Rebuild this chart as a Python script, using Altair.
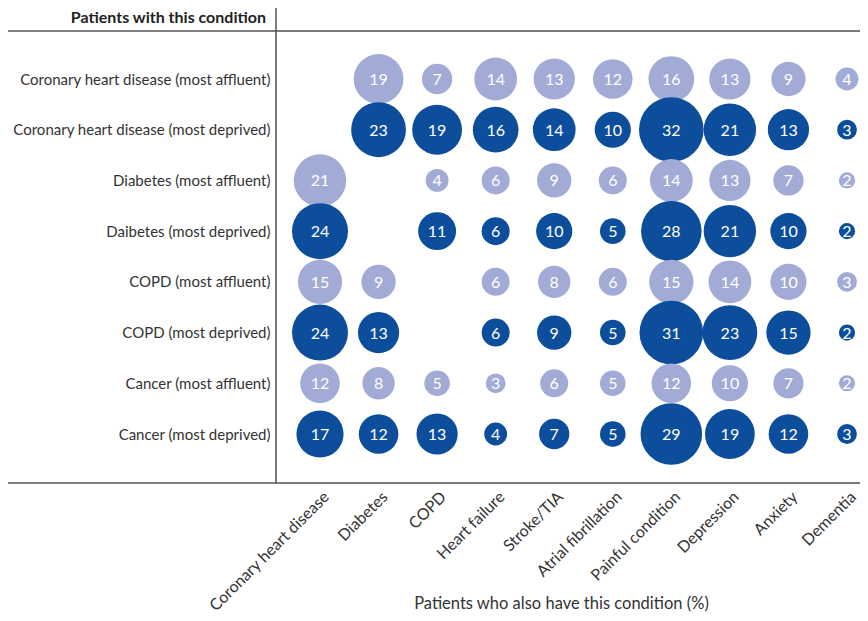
import altair as alt
import pandas as pd

rows = [
    "Coronary heart disease (most affluent)",
    "Coronary heart disease (most deprived)",
    "Diabetes (most affluent)",
    "Daibetes (most deprived)",
    "COPD (most affluent)",
    "COPD (most deprived)",
    "Cancer (most affluent)",
    "Cancer (most deprived)",
]
groups = ["affluent", "deprived", "affluent", "deprived", "affluent", "deprived", "affluent", "deprived"]
cols = [
    "Coronary heart disease", "Diabetes", "COPD", "Heart failure", "Stroke/TIA",
    "Atrial fibrillation", "Painful condition", "Depression", "Anxiety", "Dementia",
]
chd_affluent = [None, 19, 7, 14, 13, 12, 16, 13, 9, 4]
chd_deprived = [None, 23, 19, 16, 14, 10, 32, 21, 13, 3]
diab_affluent = [21, None, 4, 6, 9, 6, 14, 13, 7, 2]
diab_deprived = [24, None, 11, 6, 10, 5, 28, 21, 10, 2]
copd_affluent = [15, 9, None, 6, 8, 6, 15, 14, 10, 3]
copd_deprived = [24, 13, None, 6, 9, 5, 31, 23, 15, 2]
cancer_affluent = [12, 8, 5, 3, 6, 5, 12, 10, 7, 2]
cancer_deprived = [17, 12, 13, 4, 7, 5, 29, 19, 12, 3]
values = [chd_affluent, chd_deprived, diab_affluent, diab_deprived,
          copd_affluent, copd_deprived, cancer_affluent, cancer_deprived]

header_text = "Patients with this condition"
x_title = "Patients who also have this condition (%)"

records = []
for i, (r, g, vals) in enumerate(zip(rows, groups, values)):
    for c, v in zip(cols, vals):
        if v is not None:
            records.append({"row": r, "col": c, "value": v, "group": g, "order": i})
df = pd.DataFrame(records)

FONT = "Lato"
W, H = 584, 452
PAD_L, PAD_T, PAD_B = 268, 23, 129
LIGHT = "#a1abd6"
DARK = "#0c4e9b"
LINE = "#555555"

x_enc = alt.X(
    "col:N", sort=cols,
    scale=alt.Scale(type="point", range=[44, 571], padding=0),
    axis=alt.Axis(
        title=x_title, labelAngle=-45, labelAlign="right", labelBaseline="middle",
        ticks=False, domain=False, labelPadding=11, labelOffset=6,
        labelFont=FONT, labelFontSize=16, labelColor="#333333",
        titleFont=FONT, titleFontSize=16.5, titleFontWeight="normal", titleColor="#333333",
        titleX=285, titleY=125, titleAlign="center", titleBaseline="alphabetic",
        labelLimit=300,
    ),
)
y_enc = alt.Y(
    "row:N", sort=rows,
    scale=alt.Scale(type="point", range=[48, 403], padding=0),
    axis=alt.Axis(
        title=None, ticks=False, domain=False, labelPadding=6,
        labelFont=FONT, labelFontSize=15, labelColor="#333333", labelLimit=400,
    ),
)

base = alt.Chart(df)

bubbles = base.mark_circle(opacity=1).encode(
    x=x_enc,
    y=y_enc,
    size=alt.Size("value:Q", scale=alt.Scale(type="linear", domain=[0, 32], range=[0, 4185]), legend=None),
    color=alt.Color("group:N", scale=alt.Scale(domain=["affluent", "deprived"], range=[LIGHT, DARK]), legend=None),
    order=alt.Order("order:Q"),
)

labels = base.mark_text(color="white", font=FONT, fontSize=16, baseline="middle", align="center", dy=1).encode(
    x=alt.X("col:N", sort=cols),
    y=alt.Y("row:N", sort=rows),
    text=alt.Text("value:Q"),
)

one = pd.DataFrame({"a": [0]})
top_line = alt.Chart(one).mark_rule(color=LINE, strokeWidth=1.5).encode(
    x=alt.value(-PAD_L), x2=alt.value(W), y=alt.value(0))
bottom_line = alt.Chart(one).mark_rule(color=LINE, strokeWidth=1.5).encode(
    x=alt.value(-PAD_L), x2=alt.value(W), y=alt.value(H))
vert_line = alt.Chart(one).mark_rule(color=LINE, strokeWidth=1.5).encode(
    x=alt.value(0), y=alt.value(-PAD_T), y2=alt.value(H))
header = alt.Chart(one).mark_text(
    align="right", baseline="alphabetic", font=FONT, fontSize=16, fontWeight="bold", color="#222222"
).encode(x=alt.value(-10), y=alt.value(-8), text=alt.value(header_text))

chart = alt.layer(bubbles, labels, top_line, bottom_line, vert_line, header).properties(
    width=W, height=H,
    autosize=alt.AutoSizeParams(type="none"),
    padding={"left": PAD_L, "top": PAD_T, "right": 0, "bottom": PAD_B},
).configure_view(stroke=None).configure(background="white")

chart.save("out.html", embed_options={"renderer": "svg", "actions": False})
